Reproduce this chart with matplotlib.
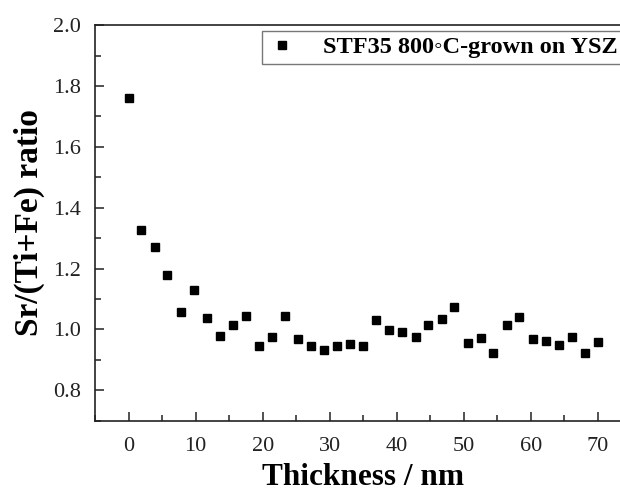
"""
Sr/(Ti+Fe) ratio vs thickness
"""

import matplotlib
matplotlib.use('Agg')
import matplotlib.pyplot as plt
from matplotlib.ticker import MultipleLocator

plt.rcParams['font.family'] = ['Liberation Serif', 'DejaVu Serif']

# data
thickness = [0, 1.9, 3.9, 5.8, 7.8, 9.7, 11.7, 13.6, 15.6, 17.5, 19.4, 21.4,
             23.3, 25.3, 27.2, 29.2, 31.1, 33.1, 35.0, 36.9, 38.9, 40.8,
             42.8, 44.7, 46.7, 48.6, 50.6, 52.5, 54.4, 56.4, 58.3, 60.3,
             62.2, 64.2, 66.1, 68.1, 70.0]
ratio = [1.76, 1.327, 1.271, 1.179, 1.057, 1.131, 1.039, 0.980, 1.015, 1.045,
         0.946, 0.976, 1.045, 0.970, 0.946, 0.933, 0.945, 0.951, 0.944, 1.032,
         0.999, 0.992, 0.975, 1.014, 1.034, 1.073, 0.955, 0.973, 0.921, 1.014,
         1.040, 0.968, 0.963, 0.950, 0.974, 0.923, 0.960]
label = 'STF35 800\u25e6C-grown on YSZ'

fig = plt.figure(figsize=(6.2, 4.92), dpi=100)
# axes run a bit past the right edge like in the original (right spine cut off)
ax = fig.add_axes([0.1532, 0.1449, 0.8653, 0.8039])

ax.plot(thickness, ratio, 's', color='black', markersize=6.3, label=label)

ax.set_xlim(-5, 75)
ax.set_ylim(0.7, 2.0)
ax.xaxis.set_major_locator(MultipleLocator(10))
ax.xaxis.set_minor_locator(MultipleLocator(5))
ax.yaxis.set_major_locator(MultipleLocator(0.2))
ax.yaxis.set_minor_locator(MultipleLocator(0.1))
ax.yaxis.set_major_formatter(plt.FormatStrFormatter('%.1f'))

ax.tick_params(which='both', direction='in', top=False, right=False,
               labelsize=16, width=1.1, colors='#222222')
ax.tick_params(which='major', length=6.5)
ax.tick_params(axis='x', which='major', pad=12)
ax.tick_params(axis='y', which='major', pad=10)
ax.tick_params(which='minor', length=4)
for s in ax.spines.values():
    s.set_linewidth(1.2)
    s.set_color('#222222')

ax.set_xlabel('Thickness / nm', fontsize=22.5, fontweight='bold', labelpad=5)
ax.set_ylabel('Sr/(Ti+Fe) ratio', fontsize=24, fontweight='bold', labelpad=6)

# legend box is cut by the right edge in the original too
top = 1 - 31 / 492
leg = ax.legend(loc='upper left', bbox_to_anchor=(262 / 620, top - 0.05, 380 / 620, 0.05),
                bbox_transform=fig.transFigure, mode='expand', fancybox=False,
                frameon=True, prop={'weight': 'bold', 'size': 17.5},
                handletextpad=1.1, borderpad=0.22, handlelength=1.2,
                borderaxespad=0)
leg.get_frame().set_edgecolor('#555555')
leg.get_frame().set_linewidth(1.0)

plt.savefig('out.png', dpi=100)
plt.close()
